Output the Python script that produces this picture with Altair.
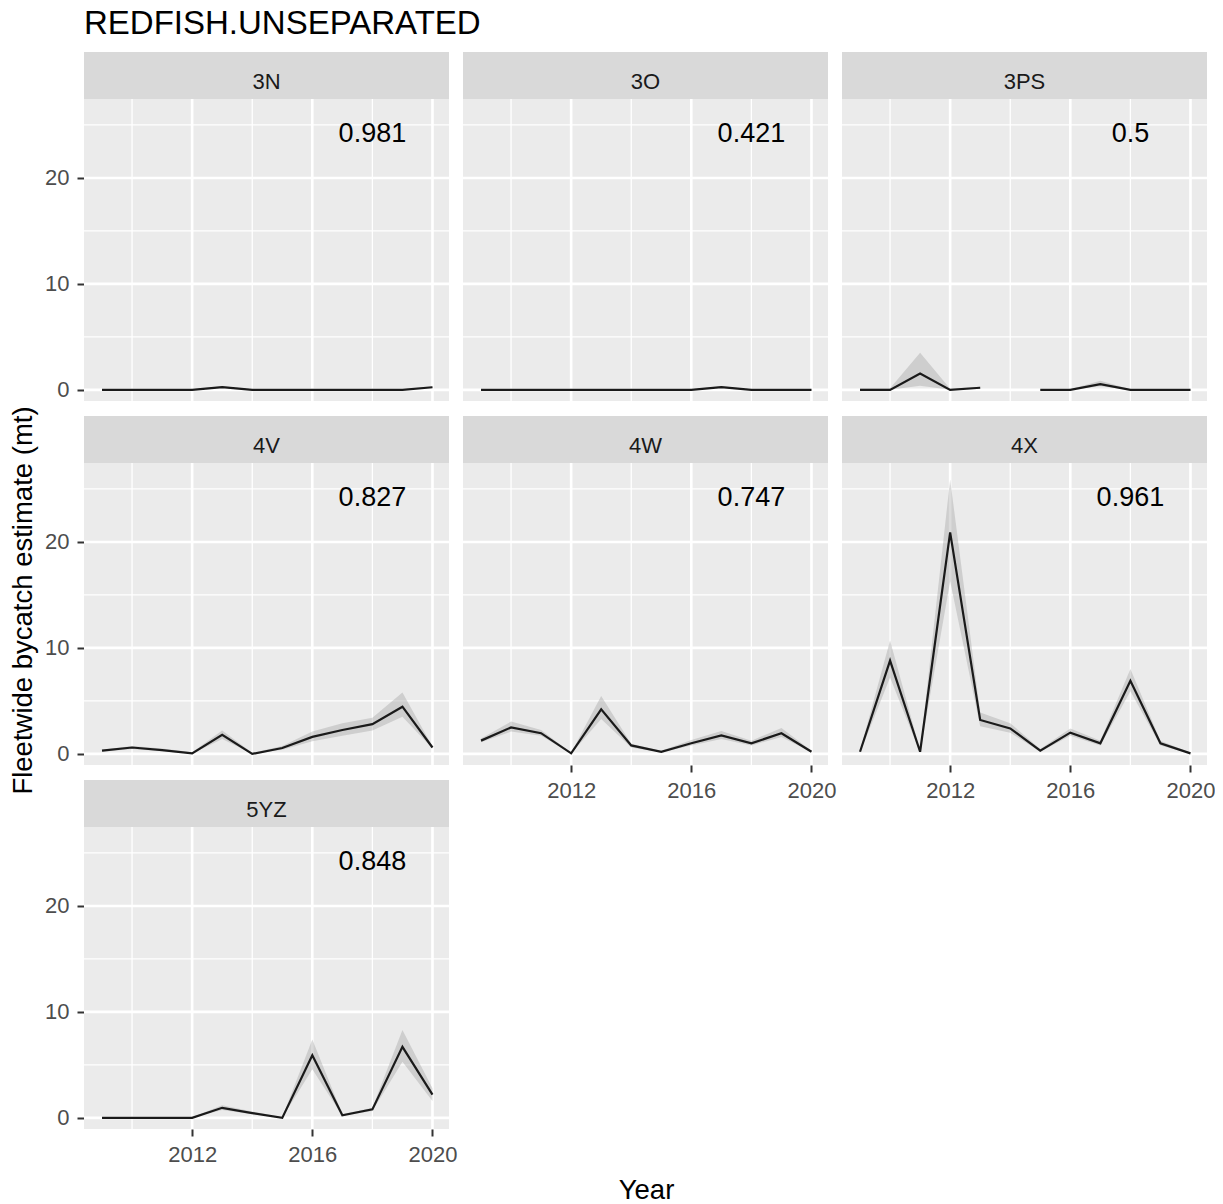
import altair as alt
import pandas as pd

FONT = "Liberation Sans"

YEARS = list(range(2009, 2021))

AREAS = ["3N", "3O", "3PS", "4V", "4W", "4X", "5YZ"]
R2_LABELS = ["0.981", "0.421", "0.5", "0.827", "0.747", "0.961", "0.848"]

# Fleetwide bycatch estimates (mt) with lower / upper ribbon bounds, 2009-2020
EST_3N = [0, 0, 0, 0, 0.25, 0, 0, 0, 0, 0, 0, 0.25]
LO_3N = [0, 0, 0, 0, 0.2, 0, 0, 0, 0, 0, 0, 0.2]
HI_3N = [0.05, 0.05, 0.05, 0.05, 0.35, 0.05, 0.05, 0.05, 0.05, 0.05, 0.05, 0.35]

EST_3O = [0, 0, 0, 0, 0, 0, 0, 0, 0.25, 0, 0, 0]
LO_3O = [0, 0, 0, 0, 0, 0, 0, 0, 0.2, 0, 0, 0]
HI_3O = [0.05, 0.05, 0.05, 0.05, 0.05, 0.05, 0.05, 0.05, 0.35, 0.05, 0.05, 0.05]

EST_3PS = [0, 0, 1.55, 0, 0.2, None, 0, 0, 0.55, 0, 0, 0]
LO_3PS = [0, 0, 0.4, 0, 0.1, None, 0, 0, 0.35, 0, 0, 0]
HI_3PS = [0.15, 0.15, 3.5, 0.1, 0.3, None, 0.05, 0.05, 0.85, 0.05, 0.05, 0.05]

EST_4V = [0.3, 0.6, 0.35, 0.05, 1.8, 0, 0.55, 1.6, 2.25, 2.8, 4.45, 0.6]
LO_4V = [0.2, 0.45, 0.25, 0, 1.4, 0, 0.4, 1.2, 1.7, 2.2, 3.5, 0.5]
HI_4V = [0.4, 0.75, 0.5, 0.15, 2.2, 0.1, 0.75, 2.1, 2.9, 3.4, 5.8, 0.7]

EST_4W = [1.25, 2.5, 1.95, 0.05, 4.2, 0.8, 0.2, 1.0, 1.75, 1.0, 1.95, 0.2]
LO_4W = [1.1, 2.1, 1.7, 0, 3.3, 0.6, 0.15, 0.8, 1.4, 0.8, 1.6, 0.15]
HI_4W = [1.45, 3.05, 2.25, 0.1, 5.45, 0.95, 0.3, 1.3, 2.15, 1.25, 2.45, 0.3]

EST_4X = [0.2, 8.8, 0.2, 20.9, 3.2, 2.4, 0.3, 2.0, 1.0, 6.9, 1.0, 0.05]
LO_4X = [0.1, 7.2, 0.1, 16.3, 2.6, 2.0, 0.2, 1.7, 0.8, 5.9, 0.8, 0.02]
HI_4X = [0.3, 10.7, 0.35, 25.9, 3.9, 2.9, 0.45, 2.4, 1.25, 8.0, 1.25, 0.1]

EST_5YZ = [0, 0, 0, 0, 0.95, 0.45, 0, 5.9, 0.25, 0.8, 6.7, 2.2]
LO_5YZ = [0, 0, 0, 0, 0.75, 0.35, 0, 4.6, 0.2, 0.65, 5.3, 1.6]
HI_5YZ = [0, 0, 0, 0.05, 1.2, 0.6, 0.05, 7.4, 0.35, 0.95, 8.3, 2.8]

SERIES = {
    "3N": (EST_3N, LO_3N, HI_3N),
    "3O": (EST_3O, LO_3O, HI_3O),
    "3PS": (EST_3PS, LO_3PS, HI_3PS),
    "4V": (EST_4V, LO_4V, HI_4V),
    "4W": (EST_4W, LO_4W, HI_4W),
    "4X": (EST_4X, LO_4X, HI_4X),
    "5YZ": (EST_5YZ, LO_5YZ, HI_5YZ),
}

X_MAJOR = [2012, 2016, 2020]
X_MINOR = [2010, 2014, 2018]
Y_MAJOR = [0, 10, 20]
Y_MINOR = [5, 15, 25]

LABEL_YEAR = 2018
LABEL_VALUE = 24.15

# panel geometry: grey strip on top of the plotting area
W = 365
H = 302
STRIP_H = 47
TOTAL_H = STRIP_H + H

X_SCALE = alt.Scale(domain=[2008.4, 2020.55], nice=False, zero=False)
Y_SCALE = alt.Scale(domain=[-1.05, 27.45], range=[TOTAL_H, STRIP_H],
                    nice=False, zero=False)

TICK_STYLE = dict(grid=False, domain=False, format="d",
                  labelFontSize=22, labelColor="#4D4D4D", labelFont=FONT,
                  labelPadding=8, labelOverlap=False,
                  tickColor="#333333", tickSize=7, tickWidth=2)
TITLE_STYLE = dict(titleFontSize=27.5, titleFont=FONT,
                   titleFontWeight="normal", titleColor="black",
                   titleAlign="center", titleBaseline="middle")


def x_axis(show, with_title=False):
    if not show:
        return None
    if with_title:
        # shared "Year" title, centred under all three columns
        return alt.Axis(values=X_MAJOR, labelFlush=False, title="Year",
                        titleX=562, titleY=61, **TITLE_STYLE, **TICK_STYLE)
    return alt.Axis(values=X_MAJOR, labelFlush=False, title=None, **TICK_STYLE)


def y_axis(show, with_title=False):
    if not show:
        return None
    if with_title:
        # shared y title, centred on the whole stack of panels
        return alt.Axis(values=Y_MAJOR, labelBaseline="middle",
                        title="Fleetwide bycatch estimate (mt)",
                        titleAngle=270, titleX=-61, titleY=184,
                        **TITLE_STYLE, **TICK_STYLE)
    return alt.Axis(values=Y_MAJOR, labelBaseline="middle", title=None,
                    **TICK_STYLE)


def panel(area, label, show_x, show_y, y_title=False, x_title=False):
    est, lo, hi = SERIES[area]
    rows = []
    seg = 0
    for yr, e, l, h in zip(YEARS, est, lo, hi):
        if e is None:
            seg += 1
            continue
        rows.append({"year": yr, "value": e, "lo": l, "hi": h, "seg": seg})
    df = pd.DataFrame(rows)

    xa = x_axis(show_x, x_title)
    ya = y_axis(show_y, y_title)

    def xe(field="year"):
        return alt.X(f"{field}:Q", scale=X_SCALE, axis=xa)

    def ye(field="value"):
        return alt.Y(f"{field}:Q", scale=Y_SCALE, axis=ya)

    one = pd.DataFrame({"label": [area]})

    strip_bg = alt.Chart(one).mark_rect(color="#D9D9D9").encode(
        x=alt.value(0), x2=alt.value(W), y=alt.value(0), y2=alt.value(STRIP_H))
    panel_bg = alt.Chart(one).mark_rect(color="#EBEBEB").encode(
        x=alt.value(0), x2=alt.value(W), y=alt.value(STRIP_H),
        y2=alt.value(TOTAL_H))
    strip_txt = alt.Chart(one).mark_text(
        fontSize=22, font=FONT, color="#1A1A1A", align="center",
        baseline="alphabetic").encode(
        text="label:N", x=alt.value(W / 2), y=alt.value(37))

    gx_minor = alt.Chart(pd.DataFrame({"year": X_MINOR})).mark_rule(
        color="white", strokeWidth=1.3).encode(
        x=xe(), y=alt.value(STRIP_H), y2=alt.value(TOTAL_H))
    gx_major = alt.Chart(pd.DataFrame({"year": X_MAJOR})).mark_rule(
        color="white", strokeWidth=2.6).encode(
        x=xe(), y=alt.value(STRIP_H), y2=alt.value(TOTAL_H))
    gy_minor = alt.Chart(pd.DataFrame({"value": Y_MINOR})).mark_rule(
        color="white", strokeWidth=1.3).encode(y=ye())
    gy_major = alt.Chart(pd.DataFrame({"value": Y_MAJOR})).mark_rule(
        color="white", strokeWidth=2.6).encode(y=ye())

    ribbon = alt.Chart(df).mark_area(color="#999999", opacity=0.35).encode(
        x=xe(), y=ye("lo"), y2="hi:Q", detail="seg:N")
    line = alt.Chart(df).mark_line(color="#1A1A1A", strokeWidth=2.2).encode(
        x=xe(), y=ye(), detail="seg:N")
    text = alt.Chart(pd.DataFrame({"year": [LABEL_YEAR], "value": [LABEL_VALUE],
                                   "label": [label]})).mark_text(
        fontSize=27, font=FONT, color="black", align="center",
        baseline="middle").encode(x=xe(), y=ye(), text="label:N")

    return alt.layer(strip_bg, panel_bg, strip_txt, gx_minor, gx_major,
                     gy_minor, gy_major, ribbon, line, text).properties(
        width=W, height=TOTAL_H)


p = {a: l for a, l in zip(AREAS, R2_LABELS)}

panels = [
    panel("3N", p["3N"], False, True),
    panel("3O", p["3O"], False, False),
    panel("3PS", p["3PS"], False, False),
    panel("4V", p["4V"], False, True, y_title=True),
    panel("4W", p["4W"], True, False),
    panel("4X", p["4X"], True, False),
    panel("5YZ", p["5YZ"], True, True, x_title=True),
]

chart = alt.concat(*panels, columns=3, bounds="flush",
                   spacing={"row": 15, "column": 14}).properties(
    title=alt.TitleParams("REDFISH.UNSEPARATED", anchor="start", frame="group",
                          fontSize=33, font=FONT, color="black",
                          fontWeight="normal", offset=11)
).configure(
    padding={"left": 8, "top": 8, "right": 0, "bottom": 0},
    background="white",
).configure_view(stroke=None)

chart.save("out.html", embed_options={"renderer": "svg", "actions": False})
